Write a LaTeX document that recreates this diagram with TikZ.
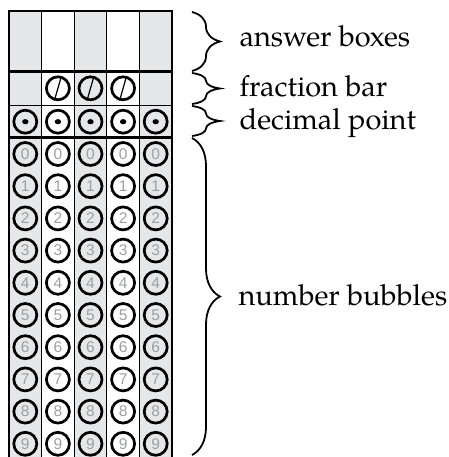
\documentclass[tikz,border=0pt]{standalone}
\usepackage{fontspec}
\setmainfont{TeX Gyre Pagella}
\newfontfamily\digitfont{Liberation Sans}
\usepackage{xcolor}
\usetikzlibrary{decorations.pathreplacing}

\definecolor{colgray}{HTML}{E6E7E8}
\definecolor{digitgray}{HTML}{9D9FA2}

\begin{document}
\begin{tikzpicture}[x=1pt, y=-1pt,
  bubble/.style={circle, draw, line width=2.7pt, minimum size=23pt, inner sep=0pt,
    font=\digitfont\fontsize{15.5}{15.5}\selectfont, text=digitgray},
  curly/.style={decorate, decoration={brace, amplitude=28pt}, line width=1.8pt},
  tag/.style={anchor=base west, font=\fontsize{29}{34}\selectfont}]
\useasboundingbox (0,0) rectangle (448,457);
\clip (0,0) rectangle (448,457);

% Shaded columns
\foreach \c in {0,2,4}
  \fill[colgray] (9+\c*32.6,11) rectangle ++(32.6,450);

% Grid
\foreach \c in {1,...,4}
  \draw[line width=0.9pt] (9+\c*32.6,11) -- (9+\c*32.6,462);
\draw[line width=0.9pt] (9,105) -- (172,105);
\draw[line width=3pt] (9,72) -- (172,72);
\draw[line width=3pt] (9,137.5) -- (172,137.5);
\draw[line width=2.5pt] (9,462) -- (9,11) -- (172,11) -- (172,462);

% Fraction bar bubbles
\foreach \c in {1,2,3} {
  \node[bubble] (frac\c) at (25.3+\c*32.6,88.3) {};
  \draw[line width=1.2pt] (frac\c.254) -- (frac\c.74);
}

% Decimal point bubbles
\foreach \c in {0,...,4} {
  \node[bubble] (dec\c) at (25.3+\c*32.6,121.7) {};
  \fill (dec\c) ellipse (3.2pt and 2.6pt);
}

% Number bubbles
\foreach \r in {0,...,9}
  \foreach \c in {0,...,4}
    \node[bubble] (num\c\r) at (25.3+\c*32.6,154+\r*32.2) {\r};

% Braces
\coordinate (anstop) at (192,12);
\coordinate (ansbot) at (192,71);
\coordinate (fractop) at (192,73);
\coordinate (fracbot) at (192,104);
\coordinate (dectop) at (192,106);
\coordinate (decbot) at (192,136);
\coordinate (numtop) at (192,138);
\coordinate (numbot) at (192,455);
\draw[curly] (anstop) -- (ansbot);
\draw[curly] (fractop) -- (fracbot);
\draw[curly] (dectop) -- (decbot);
\draw[curly] (numtop) -- (numbot);

% Labels
\node[tag] (anslabel) at (236,47) {answer boxes};
\node[tag] (fraclabel) at (236,97) {fraction bar};
\node[tag] (declabel) at (236,130) {decimal point};
\node[tag] (numlabel) at (235,305) {number bubbles};
\end{tikzpicture}
\end{document}
